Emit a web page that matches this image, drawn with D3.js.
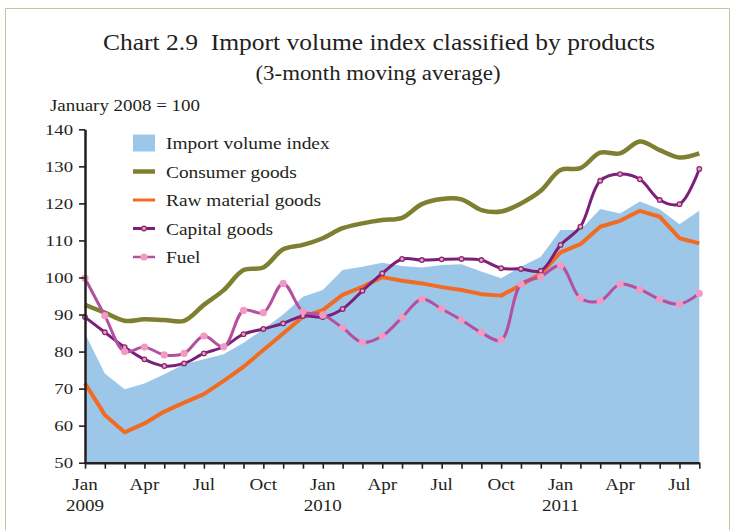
<!DOCTYPE html>
<html>
<head>
<meta charset="utf-8">
<script src="https://cdn.jsdelivr.net/npm/d3@7"></script>
<style>
  body { margin: 0; background: #fff; }
  svg text { font-family: "Liberation Serif", "DejaVu Serif", serif; fill: #231f20; }
</style>
</head>
<body>
<svg id="chart" width="736" height="530"></svg>
<script>
// month categories, Jan 2009 .. Aug 2011
var months = ["2009-01","2009-02","2009-03","2009-04","2009-05","2009-06","2009-07","2009-08","2009-09","2009-10","2009-11","2009-12",
              "2010-01","2010-02","2010-03","2010-04","2010-05","2010-06","2010-07","2010-08","2010-09","2010-10","2010-11","2010-12",
              "2011-01","2011-02","2011-03","2011-04","2011-05","2011-06","2011-07","2011-08"];

var importIndex = [84.9,74.1,69.8,71.4,73.9,76.6,77.9,79.3,82.4,86.0,90.0,94.8,
                   96.6,102.0,102.9,104.0,103.1,102.7,103.4,103.6,101.6,99.8,102.9,105.6,
                   112.8,112.8,118.5,117.3,120.5,118.4,114.4,118.0];
var consumerGoods = [92.6,90.5,88.3,88.7,88.5,88.3,92.6,96.6,102.0,102.7,107.6,108.8,
                     110.6,113.3,114.6,115.5,116.1,119.8,121.2,121.1,118.2,117.8,120.0,123.4,
                     129.0,129.5,133.7,133.5,136.7,134.4,132.4,133.5];
var rawMaterial = [71.4,62.9,58.2,60.6,63.8,66.2,68.5,72.1,75.9,80.4,84.9,89.4,
                   91.2,95.3,97.5,100.1,99.1,98.4,97.4,96.6,95.5,95.1,98.0,101.0,
                   106.8,109.0,113.7,115.3,118.0,116.4,110.6,109.2];
var capitalGoods = [89.3,85.2,81.2,77.9,76.1,76.8,79.5,81.3,84.7,86.1,87.6,89.6,
                    89.3,91.5,96.4,101.1,105.0,104.7,104.9,105.0,104.7,102.5,102.3,101.8,
                    108.8,113.7,126.1,127.9,126.5,120.9,119.8,129.3];
var fuel = [99.8,89.7,80.0,81.2,79.1,79.5,84.2,81.3,91.1,90.5,98.4,90.8,
            89.9,86.4,82.5,84.2,89.2,94.2,91.5,88.5,85.1,83.1,98.2,100.2,
            103.2,94.4,93.7,98.2,96.8,94.1,92.8,95.7];

var yTicks = [50,60,70,80,90,100,110,120,130,140];
var xLabels = [{m:"Jan",yr:"2009",i:0},{m:"Apr",i:3},{m:"Jul",i:6},{m:"Oct",i:9},
               {m:"Jan",yr:"2010",i:12},{m:"Apr",i:15},{m:"Jul",i:18},{m:"Oct",i:21},
               {m:"Jan",yr:"2011",i:24},{m:"Apr",i:27},{m:"Jul",i:30}];

var legendNames = ["Import volume index","Consumer goods","Raw material goods","Capital goods","Fuel"];

var colors = {
    area: "#9dc7e8",
    consumer: "#7f7f31",
    raw: "#f26b22",
    capital: "#7b1f7b",
    fuelLine: "#b54f9f",
    fuelDot: "#f39ac3"
};

var svg = d3.select("#chart");

// the original face is a wide Garamond; stretch Liberation Serif to its widths
function stretch(sel, k) {
    sel.each(function() {
        var w = this.getComputedTextLength();
        d3.select(this).attr("textLength", w * k).attr("lengthAdjust", "spacingAndGlyphs");
    });
}

// frame
svg.append("path")
    .attr("d", "M5.5,530 L5.5,8.5 L729.5,8.5 L729.5,530")
    .attr("fill", "none")
    .attr("stroke", "#cdbf9f")
    .attr("stroke-width", 1);

var x = d3.scaleLinear().domain([0, months.length - 1]).range([85, 699.3]);
var y = d3.scaleLinear().domain([50, 140]).range([462.7, 129.3]);

// titles
svg.append("text").attr("x", 379).attr("y", 50).attr("text-anchor", "middle")
    .style("font-size", "24px").text("Chart 2.9\u00a0 Import volume index classified by products")
    .attr("textLength", 552).attr("lengthAdjust", "spacingAndGlyphs");
svg.append("text").attr("x", 378).attr("y", 80).attr("text-anchor", "middle")
    .style("font-size", "20px").text("(3-month moving average)")
    .attr("textLength", 245).attr("lengthAdjust", "spacingAndGlyphs");
svg.append("text").attr("x", 50).attr("y", 111)
    .style("font-size", "16px").text("January 2008 = 100")
    .attr("textLength", 150).attr("lengthAdjust", "spacingAndGlyphs");

// area
var area = d3.area()
    .x(function(d, i) { return x(i); })
    .y0(y(50))
    .y1(function(d) { return y(d); });
svg.append("path").datum(importIndex)
    .attr("d", area)
    .attr("fill", colors.area);

function lineFor(curve) {
    return d3.line()
        .x(function(d, i) { return x(i); })
        .y(function(d) { return y(d); })
        .curve(curve);
}

svg.append("path").datum(consumerGoods)
    .attr("d", lineFor(d3.curveCatmullRom.alpha(0.5)))
    .attr("fill", "none").attr("stroke", colors.consumer).attr("stroke-width", 4.5);

svg.append("path").datum(rawMaterial)
    .attr("d", lineFor(d3.curveLinear))
    .attr("fill", "none").attr("stroke", colors.raw).attr("stroke-width", 4)
    .attr("stroke-linejoin", "round");

svg.append("path").datum(capitalGoods)
    .attr("d", lineFor(d3.curveCatmullRom.alpha(0.5)))
    .attr("fill", "none").attr("stroke", colors.capital).attr("stroke-width", 3);
svg.append("g").selectAll("circle").data(capitalGoods).enter().append("circle")
    .attr("cx", function(d, i) { return x(i); })
    .attr("cy", function(d) { return y(d); })
    .attr("r", 2.3)
    .attr("fill", "#e7a3c9")
    .attr("stroke", "#8a2a6e")
    .attr("stroke-width", 1.3);

svg.append("path").datum(fuel)
    .attr("d", lineFor(d3.curveCatmullRom.alpha(0.5)))
    .attr("fill", "none").attr("stroke", colors.fuelLine).attr("stroke-width", 3);
svg.append("g").selectAll("circle").data(fuel).enter().append("circle")
    .attr("cx", function(d, i) { return x(i); })
    .attr("cy", function(d) { return y(d); })
    .attr("r", 3.6)
    .attr("fill", colors.fuelDot);

// axes
var yAxis = d3.axisLeft(y).tickValues(yTicks).tickSize(6).tickSizeOuter(0).tickPadding(6);
var gy = svg.append("g").attr("transform", "translate(85,0)").call(yAxis);
gy.select(".domain").attr("stroke", "#231f20").attr("stroke-width", 2.5);
gy.selectAll(".tick line").attr("stroke", "#231f20").attr("stroke-width", 1.6);
gy.selectAll(".tick text").style("font-size", "15px").style("font-family", "Liberation Serif").attr("fill", "#231f20");
stretch(gy.selectAll(".tick text"), 1.25);

var xAxis = d3.axisBottom(x).tickValues(d3.range(months.length)).tickSize(6).tickSizeOuter(0).tickFormat("");
var gx = svg.append("g").attr("transform", "translate(0," + y(50) + ")").call(xAxis);
gx.select(".domain").attr("stroke", "#231f20").attr("stroke-width", 2.5);
gx.selectAll(".tick line").attr("stroke", "#231f20").attr("stroke-width", 1.6);

var xl = svg.append("g");
xLabels.forEach(function(d) {
    xl.append("text").attr("x", x(d.i)).attr("y", 490).attr("text-anchor", "middle")
        .style("font-size", "17px").text(d.m);
    if (d.yr) {
        xl.append("text").attr("x", x(d.i)).attr("y", 511).attr("text-anchor", "middle")
            .style("font-size", "17px").text(d.yr);
    }
});
stretch(xl.selectAll("text"), 1.12);

// legend
var lg = svg.append("g").attr("transform", "translate(133,143)");
var rowH = 28.5;
legendNames.forEach(function(name, k) {
    var yy = k * rowH;
    if (k === 0) {
        lg.append("rect").attr("x", 0).attr("y", yy - 8.5).attr("width", 22).attr("height", 17).attr("fill", colors.area);
    } else {
        var c = [null, colors.consumer, colors.raw, colors.capital, colors.fuelLine][k];
        var w = [0, 4.5, 3, 3, 2.5][k];
        lg.append("line").attr("x1", 0).attr("x2", 22).attr("y1", yy).attr("y2", yy)
            .attr("stroke", c).attr("stroke-width", w);
        if (k === 3) {
            lg.append("circle").attr("cx", 11).attr("cy", yy).attr("r", 2.3)
                .attr("fill", "#e7a3c9").attr("stroke", "#8a2a6e").attr("stroke-width", 1.3);
        }
        if (k === 4) {
            lg.append("circle").attr("cx", 11).attr("cy", yy).attr("r", 3.6).attr("fill", colors.fuelDot);
        }
    }
    lg.append("text").attr("class", "lgtext").attr("x", 33).attr("y", yy + 6).style("font-size", "17px").text(name);
});
stretch(lg.selectAll(".lgtext"), 1.14);
</script>
</body>
</html>
